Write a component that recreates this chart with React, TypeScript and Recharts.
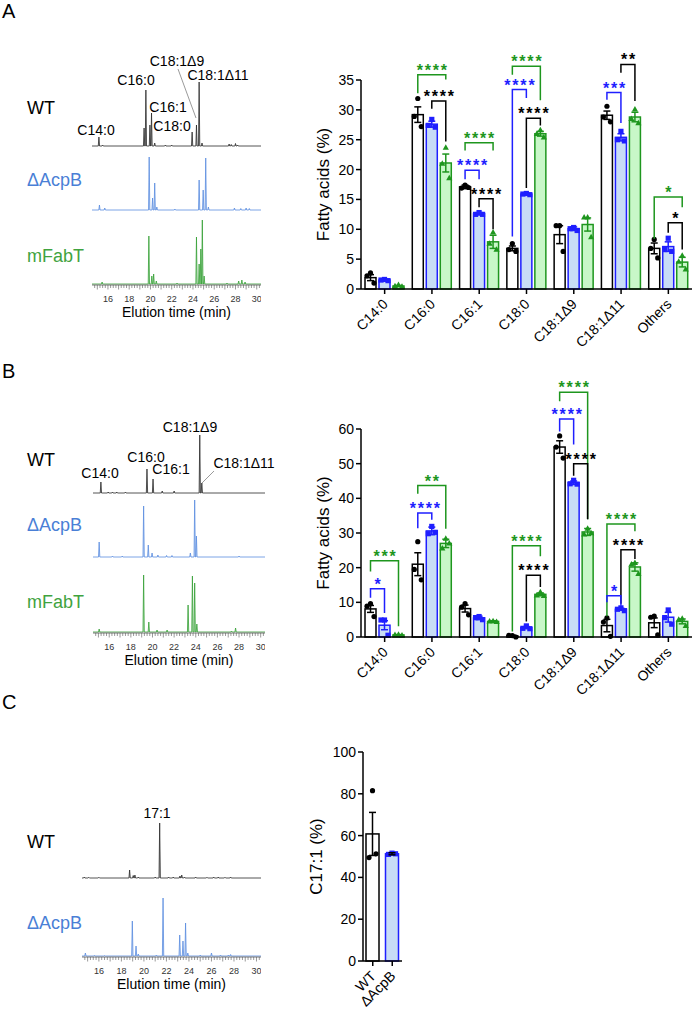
import React from 'react'
import { BarChart, Bar, XAxis, YAxis, ErrorBar, AreaChart, Area, Label } from 'recharts'

const FONT = '"Liberation Sans", Arial, Helvetica, sans-serif'

// ---------- bar chart data ----------
const categories = ['C14:0', 'C16:0', 'C16:1', 'C18:0', 'C18:1Δ9', 'C18:1Δ11', 'Others']

// panel A (%), mean / SEM / replicates
const aWT = [1.9, 29.2, 17.1, 6.8, 9.1, 29.1, 6.8]
const aAcpB = [1.5, 27.6, 12.6, 15.9, 10.1, 25.4, 7.1]
const aFabT = [0.5, 21.1, 7.9, 26.0, 10.8, 28.8, 4.5]
const aWTsem = [0.5, 1.3, 0.3, 0.4, 1.5, 0.7, 0.9]
const aAcpBsem = [0.1, 0.5, 0.2, 0.1, 0.3, 0.6, 0.8]
const aFabTsem = [0.1, 1.5, 1.1, 0.4, 1.1, 0.8, 0.8]
const aWTreps = [[2.7, 2.2, 1.0], [31.9, 28.9, 27.2], [17.4, 16.9, 17.0], [7.6, 6.6, 6.3], [10.6, 10.6, 6.3], [30.6, 28.8, 28.0], [8.3, 6.8, 5.2]]
const aAcpBreps = [[1.6, 1.5, 1.4], [28.4, 27.4, 27.1], [12.8, 12.5, 12.5], [16.0, 15.9, 15.8], [10.3, 10.1, 9.8], [26.4, 25.0, 24.8], [8.5, 6.6, 6.3]]
const aFabTreps = [[0.7, 0.5, 0.4], [23.7, 21.0, 18.6], [9.5, 7.6, 6.6], [26.6, 26.0, 25.4], [12.0, 12.0, 8.7], [30.1, 28.5, 27.8], [5.6, 4.6, 3.3]]

// panel B (%)
const bWT = [8.1, 21.0, 8.2, 0.3, 54.8, 3.3, 4.1]
const bAcpB = [3.4, 30.6, 5.5, 2.7, 44.5, 8.0, 5.7]
const bFabT = [0.6, 27.0, 4.5, 12.3, 30.3, 20.2, 4.5]
const bWTsem = [1.0, 3.3, 1.0, 0.2, 1.8, 1.8, 1.4]
const bAcpBsem = [1.3, 1.1, 0.5, 0.3, 0.5, 0.3, 1.4]
const bFabTsem = [0.1, 1.2, 0.2, 0.4, 1.0, 1.2, 0.7]
const bWTreps = [[9.6, 8.9, 5.9], [27.5, 19.5, 16.5], [9.6, 8.6, 6.4], [0.4, 0.5, 0.0], [58.0, 54.8, 51.6], [5.5, 4.3, 0.2], [6.0, 5.7, 0.6]]
const bAcpBreps = [[4.9, 4.9, 0.5], [31.9, 29.8, 30.2], [5.9, 5.6, 5.0], [3.2, 2.5, 2.4], [45.2, 44.2, 44.1], [8.4, 8.0, 7.6], [7.8, 5.6, 3.7]]
const bFabTreps = [[0.7, 0.6, 0.5], [28.4, 25.6, 27.0], [4.6, 4.5, 4.4], [13.0, 12.0, 11.9], [31.3, 29.6, 30.0], [21.4, 21.0, 18.2], [5.3, 5.0, 3.2]]

// panel C (%)
const cNames = ['WT', 'ΔAcpB']
const cMean = [60.8, 51.3]
const cSem = [10.3, 0.5]
const cReps = [[81.5, 49.5, 51.3], [51.6, 51.0, 51.3]]

const aTicks = [0, 5, 10, 15, 20, 25, 30, 35]
const bTicks = [0, 10, 20, 30, 40, 50, 60]
const cTicks = [0, 20, 40, 60, 80, 100]

// significance brackets: a/b = series index (0 WT, 1 ΔAcpB, 2 mFabT), heights in %
type Bracket = { cat: string; a: number; b: number; top: number; la: number; lb: number; stars: string }
const bracketsA: Bracket[] = [
  { cat: 'C16:0', a: 0, b: 2, top: 35.9, la: 32.8, lb: 35.1, stars: '****' },
  { cat: 'C16:0', a: 1, b: 2, top: 31.5, la: 30.2, lb: 24.7, stars: '****' },
  { cat: 'C16:1', a: 0, b: 2, top: 24.5, la: 23.2, lb: 23.2, stars: '****' },
  { cat: 'C16:1', a: 0, b: 1, top: 19.9, la: 18.4, lb: 18.4, stars: '****' },
  { cat: 'C16:1', a: 1, b: 2, top: 15.1, la: 13.7, lb: 10.0, stars: '****' },
  { cat: 'C18:0', a: 0, b: 2, top: 37.3, la: 35.9, lb: 31.6, stars: '****' },
  { cat: 'C18:0', a: 0, b: 1, top: 33.4, la: 8.8, lb: 32.0, stars: '****' },
  { cat: 'C18:0', a: 1, b: 2, top: 28.6, la: 16.9, lb: 27.4, stars: '****' },
  { cat: 'C18:1Δ11', a: 0, b: 1, top: 32.9, la: 31.7, lb: 27.8, stars: '***' },
  { cat: 'C18:1Δ11', a: 1, b: 2, top: 37.6, la: 36.2, lb: 31.5, stars: '**' },
  { cat: 'Others', a: 0, b: 2, top: 15.4, la: 8.4, lb: 13.7, stars: '*' },
  { cat: 'Others', a: 1, b: 2, top: 11.1, la: 9.4, lb: 6.6, stars: '*' },
]
const bracketsB: Bracket[] = [
  { cat: 'C14:0', a: 0, b: 2, top: 22.0, la: 18.9, lb: 3.1, stars: '***' },
  { cat: 'C14:0', a: 0, b: 1, top: 13.9, la: 11.3, lb: 6.9, stars: '*' },
  { cat: 'C16:0', a: 0, b: 2, top: 43.7, la: 41.3, lb: 31.2, stars: '**' },
  { cat: 'C16:0', a: 0, b: 1, top: 35.8, la: 31.4, lb: 33.8, stars: '****' },
  { cat: 'C18:0', a: 0, b: 2, top: 26.3, la: 1.6, lb: 23.3, stars: '****' },
  { cat: 'C18:0', a: 1, b: 2, top: 17.8, la: 4.5, lb: 14.4, stars: '****' },
  { cat: 'C18:1Δ9', a: 0, b: 2, top: 70.6, la: 68.0, lb: 34.0, stars: '****' },
  { cat: 'C18:1Δ9', a: 0, b: 1, top: 62.9, la: 59.3, lb: 55.5, stars: '****' },
  { cat: 'C18:1Δ9', a: 1, b: 2, top: 50.0, la: 46.5, lb: 34.0, stars: '****' },
  { cat: 'C18:1Δ11', a: 0, b: 2, top: 32.6, la: 6.0, lb: 30.5, stars: '****' },
  { cat: 'C18:1Δ11', a: 1, b: 2, top: 25.2, la: 9.6, lb: 22.5, stars: '****' },
  { cat: 'C18:1Δ11', a: 0, b: 1, top: 11.9, la: 10.0, lb: 9.0, stars: '*' },
]

// ---------- chromatogram peaks: [time (min), height] ----------
const peaksA_WT = [[15.15, 9], [15.5, 1], [19.4, 18], [19.57, 56], [19.95, 21], [20.1, 33], [20.4, 3], [21.4, 1], [22.0, 1], [23.92, 14], [24.33, 21], [24.58, 64], [24.85, 3], [27.4, 2], [27.6, 1.5], [28.0, 2.5], [28.2, 1]]
const peaksA_AcpB = [[15.2, 5], [15.7, 2], [19.88, 53], [20.2, 12], [20.4, 27], [20.6, 3], [22.3, 1], [24.58, 30], [24.96, 20], [25.2, 52], [25.45, 3], [27.9, 2], [28.5, 1.5], [29.0, 2], [29.3, 1.5]]
const peaksA_FabT = [[15.45, 2], [19.85, 48], [20.13, 8], [20.3, 10], [20.55, 3], [22.5, 1], [24.33, 47], [24.58, 20], [24.74, 35], [24.88, 64], [25.05, 8], [27.2, 1], [28.3, 3], [28.6, 4], [28.9, 2]]
const peaksB_WT = [[15.23, 11], [15.9, 1], [16.3, 1], [16.7, 1], [17.5, 1], [19.49, 24], [20.05, 14], [20.9, 2], [22.0, 2], [24.37, 58], [24.56, 10]]
const peaksB_AcpB = [[15.07, 15], [16.3, 1], [17.2, 1], [19.18, 51], [19.61, 12], [19.96, 4], [20.5, 2], [21.3, 1.5], [21.8, 1.5], [23.5, 4], [23.9, 57], [24.06, 21], [28.0, 1]]
const peaksB_FabT = [[15.07, 3], [19.18, 57], [19.66, 10], [20.42, 2], [21.35, 2], [23.29, 27], [23.69, 56], [23.9, 49], [24.1, 8], [27.3, 1], [27.68, 4]]
const peaksC_WT = [[14.7, 1], [15.1, 0.7], [16.0, 0.7], [18.73, 8], [19.05, 2.5], [19.2, 3], [19.5, 1], [21.0, 1], [21.4, 55], [22.2, 1], [22.6, 1], [23.2, 2], [23.36, 3], [23.6, 1], [24.6, 1], [25.6, 0.7], [26.2, 1], [26.6, 1], [27.2, 0.7], [27.7, 1]]
const peaksC_AcpB = [[14.8, 3], [15.6, 0.7], [16.5, 0.5], [18.97, 35], [19.3, 10], [19.5, 2], [21.1, 1], [21.7, 58], [23.18, 21], [23.47, 15], [23.7, 33], [23.9, 3], [25.0, 1], [26.0, 3], [26.8, 1], [27.5, 1], [27.7, 1.5]]

const timeLabels = [16, 18, 20, 22, 24, 26, 28, 30]

// ---------- styling ----------
const BAR_W = 11
const BAR_GAP = 3
const GREEN = '#1e961e'
const BLUE = '#1f1fff'
const SERIES = [
  { key: 'wt', fill: '#ffffff', stroke: '#000000', marker: 'circle' },
  { key: 'acpb', fill: '#c8dcf6', stroke: BLUE, marker: 'square' },
  { key: 'fabt', fill: '#c8f7c8', stroke: GREEN, marker: 'triangle' },
]
const pairColor = (a: number, b: number) => (a === 0 && b === 2 ? GREEN : a === 0 && b === 1 ? BLUE : '#000000')
const JITTER = [0, -3.5, 3.5]

function marker(kind: string, cx: number, cy: number, color: string, key: number) {
  if (kind === 'square') return <rect key={key} x={cx - 2.6} y={cy - 2.6} width={5.2} height={5.2} fill={color} />
  if (kind === 'triangle') return <path key={key} d={`M${cx},${cy - 3.3} L${cx + 3.1},${cy + 2.2} L${cx - 3.1},${cy + 2.2} Z`} fill={color} />
  return <circle key={key} cx={cx} cy={cy} r={2.6} fill={color} />
}

function barShape(styleOf: (i: number) => number, reps: number[][][], max: number, brackets: Bracket[], cats: string[]) {
  return (p: any) => {
    const { x, y, width, height, index } = p
    const bg = p.background || { y: 0, height: 1 }
    const toY = (v: number) => bg.y + bg.height * (1 - v / max)
    const si = styleOf(index)
    const s = SERIES[si]
    const cx = x + width / 2
    const pts = reps[si][index] || []
    const step = width + BAR_GAP
    const own = brackets.filter((b) => b.cat === cats[index])
    return (
      <g>
        <rect x={x} y={y} width={width} height={Math.max(height, 0)} fill={s.fill} stroke={s.stroke} strokeWidth={1.5} />
        {pts.map((v, k) => marker(s.marker, cx + JITTER[k], toY(v), s.stroke, k))}
        {si === 2 &&
          own.map((b, k) => {
            const xa = cx - (2 - b.a) * step
            const xb = cx - (2 - b.b) * step
            const yt = toY(b.top)
            const col = pairColor(b.a, b.b)
            return (
              <g key={'b' + k}>
                <path d={`M${xa},${toY(b.la)} L${xa},${yt} L${xb},${yt} L${xb},${toY(b.lb)}`} fill="none" stroke={col} strokeWidth={1.5} />
                <text x={(xa + xb) / 2 + 1} y={yt + 1} textAnchor="middle" fontSize={16} fontWeight="bold" letterSpacing={1.8} fill={col} fontFamily={FONT}>
                  {b.stars}
                </text>
              </g>
            )
          })}
      </g>
    )
  }
}

function CatTick(props: any) {
  const { x, y, payload } = props
  const ax = x + 4
  const ay = y + 9
  return (
    <text x={ax} y={ay} transform={`rotate(-45 ${ax} ${ay})`} textAnchor="end" fontSize={14} fontFamily={FONT} fill="#000">
      {payload.value}
    </text>
  )
}

const yTitle = (text: string, dx: number) => (props: any) => {
  const vb = props.viewBox || { x: 0, y: 0, width: 0, height: 0 }
  const cx = vb.x + dx
  const cy = vb.y + vb.height / 2
  return (
    <text x={cx} y={cy} transform={`rotate(-90 ${cx} ${cy})`} textAnchor="middle" fontSize={17} fontFamily={FONT} fill="#000">
      {text}
    </text>
  )
}

const AXIS = { stroke: '#000', strokeWidth: 1.5 }

function FattyChart(props: {
  wt: number[]; acpb: number[]; fabt: number[]; wtSem: number[]; acpbSem: number[]; fabtSem: number[]
  reps: number[][][]; brackets: Bracket[]; max: number; ticks: number[]; top: number; marginTop: number; marginBottom: number
}) {
  const data = categories.map((name, i) => ({
    name, wt: props.wt[i], acpb: props.acpb[i], fabt: props.fabt[i],
    wtSem: props.wtSem[i], acpbSem: props.acpbSem[i], fabtSem: props.fabtSem[i],
  }))
  return (
    <div style={{ position: 'absolute', left: 300, top: props.top }}>
      <BarChart width={392} height={362} data={data} barGap={BAR_GAP}
        margin={{ top: props.marginTop, right: 0, left: 15, bottom: props.marginBottom }}>
        <XAxis dataKey="name" interval={0} height={67} tick={<CatTick />} tickSize={5} axisLine={AXIS} tickLine={AXIS} />
        <YAxis domain={[0, props.max]} ticks={props.ticks} width={46} tickSize={5} axisLine={AXIS} tickLine={AXIS}
          tick={{ fill: '#000', fontSize: 14, fontFamily: FONT }}>
          <Label content={yTitle('Fatty acids (%)', 14)} />
        </YAxis>
        {SERIES.map((s, si) => (
          <Bar key={s.key} dataKey={s.key} barSize={BAR_W} isAnimationActive={false}
            shape={barShape(() => si, props.reps, props.max, props.brackets, categories)}>
            <ErrorBar dataKey={s.key + 'Sem'} width={3.5} stroke={s.stroke} strokeWidth={1.5} />
          </Bar>
        ))}
      </BarChart>
    </div>
  )
}

function C17Chart() {
  const data = cNames.map((name, i) => ({ name, mean: cMean[i], sem: cSem[i] }))
  return (
    <div style={{ position: 'absolute', left: 290, top: 700 }}>
      <BarChart width={140} height={318} data={data} margin={{ top: 52, right: 28, left: 27, bottom: 7 }}>
        <XAxis dataKey="name" interval={0} height={50} tick={<CatTick />} tickSize={5} axisLine={AXIS} tickLine={AXIS} />
        <YAxis domain={[0, 100]} ticks={cTicks} width={46} tickSize={5} axisLine={AXIS} tickLine={AXIS}
          tick={{ fill: '#000', fontSize: 14, fontFamily: FONT }}>
          <Label content={yTitle('C17:1 (%)', 5)} />
        </YAxis>
        <Bar dataKey="mean" barSize={13} isAnimationActive={false}
          shape={barShape((i) => i, [[cReps[0]], [undefined as any, cReps[1]]], 100, [], cNames)}>
          <ErrorBar dataKey="sem" width={3.5} stroke="#000" strokeWidth={1.5} />
        </Bar>
      </BarChart>
    </div>
  )
}

// ---------- chromatograms ----------
const T0 = 14.5
const T1 = 30.4
const PEAK_W = 0.06
const TRACE_H = 70

function buildTrace(peaks: number[][]) {
  const pts: { t: number; v: number }[] = [{ t: T0, v: 0 }]
  const sorted = [...peaks].sort((a, b) => a[0] - b[0])
  for (const [t, h] of sorted) {
    pts.push({ t: t - PEAK_W, v: 0 }, { t, v: h }, { t: t + PEAK_W, v: 0 })
  }
  pts.push({ t: T1, v: 0 })
  return pts
}

const minorTicks: number[] = []
for (let t = 14.75; t <= 30.3; t += 0.25) minorTicks.push(Math.round(t * 100) / 100)

function TimeTick(props: any) {
  const { x, y, payload } = props
  const v = payload.value
  const major = Math.abs(v - Math.round(v)) < 1e-6
  return (
    <g>
      <line x1={x} x2={x} y1={y} y2={y + (major ? 4.5 : 3)} stroke="#555" strokeWidth={0.6} />
      {timeLabels.includes(v) && (
        <text x={x} y={y + 14} textAnchor="middle" dominantBaseline="central" fontSize={9} fill="#333" fontFamily={FONT}>
          {v}
        </text>
      )}
    </g>
  )
}

const timeTitle = (props: any) => {
  const vb = props.viewBox || { x: 0, y: 0, width: 0, height: 0 }
  return (
    <text x={vb.x + vb.width / 2} y={vb.y + 27} textAnchor="middle" dominantBaseline="central" fontSize={14} fill="#000" fontFamily={FONT}>
      Elution time (min)
    </text>
  )
}

function Trace(props: { peaks: number[][]; stroke: string; fill: string; left: number; baseline: number; width: number; axis?: boolean }) {
  const data = buildTrace(props.peaks)
  const h = TRACE_H + (props.axis ? 36 : 0)
  return (
    <div style={{ position: 'absolute', left: props.left, top: props.baseline - (TRACE_H - 1) }}>
      <AreaChart width={props.width} height={h} data={data} margin={{ top: 0, right: 0, left: 0, bottom: 0 }}>
        <XAxis type="number" dataKey="t" domain={[T0, T1]} hide={!props.axis} ticks={minorTicks} interval={0}
          tickSize={0} tickMargin={0} tick={<TimeTick />} axisLine={{ stroke: '#555', strokeWidth: 0.8 }} height={36}>
          <Label content={timeTitle} />
        </XAxis>
        <YAxis hide domain={[-1, TRACE_H - 1]} />
        <Area type="linear" dataKey="v" stroke={props.stroke} fill={props.fill} fillOpacity={0.55} strokeWidth={0.8}
          isAnimationActive={false} dot={false} activeDot={false} />
      </AreaChart>
    </div>
  )
}

const WT_LINE = '#2a2a2a'
const WT_FILL = '#888888'
const ACP_LINE = '#5a8de0'
const ACP_FILL = '#a8c3ef'
const FAB_LINE = '#35a035'
const FAB_FILL = '#9ad69a'
const ACP_TEXT = '#4a7fd6'
const FAB_TEXT = '#3fa33f'

// annotation layout (page px)
const peakLabels = [
  { t: 'C14:0', x: 96, y: 135 }, { t: 'C16:0', x: 136, y: 85 }, { t: 'C16:1', x: 168, y: 112 },
  { t: 'C18:0', x: 172, y: 131 }, { t: 'C18:1Δ9', x: 177, y: 66 }, { t: 'C18:1Δ11', x: 218, y: 80 },
  { t: 'C14:0', x: 100, y: 478 }, { t: 'C16:0', x: 146, y: 462 }, { t: 'C16:1', x: 171, y: 474 },
  { t: 'C18:1Δ9', x: 190, y: 432 }, { t: 'C18:1Δ11', x: 244, y: 468 },
  { t: '17:1', x: 157, y: 818 },
]
const names = [
  { t: 'WT', y: 114, c: '#000' }, { t: 'ΔAcpB', y: 186, c: ACP_TEXT }, { t: 'mFabT', y: 262, c: FAB_TEXT },
  { t: 'WT', y: 466, c: '#000' }, { t: 'ΔAcpB', y: 531, c: ACP_TEXT }, { t: 'mFabT', y: 608, c: FAB_TEXT },
  { t: 'WT', y: 848, c: '#000' }, { t: 'ΔAcpB', y: 929, c: ACP_TEXT },
]

export default function App() {
  return (
    <div style={{ position: 'absolute', left: 0, top: 0, width: 692, height: 1018, background: '#fff', fontFamily: FONT, overflow: 'hidden' }}>
      <Trace peaks={peaksA_WT} stroke={WT_LINE} fill={WT_FILL} left={92} baseline={146} width={169} />
      <Trace peaks={peaksA_AcpB} stroke={ACP_LINE} fill={ACP_FILL} left={92} baseline={210} width={169} />
      <Trace peaks={peaksA_FabT} stroke={FAB_LINE} fill={FAB_FILL} left={92} baseline={284} width={169} axis />

      <Trace peaks={peaksB_WT} stroke={WT_LINE} fill={WT_FILL} left={93} baseline={493} width={172} />
      <Trace peaks={peaksB_AcpB} stroke={ACP_LINE} fill={ACP_FILL} left={93} baseline={557} width={172} />
      <Trace peaks={peaksB_FabT} stroke={FAB_LINE} fill={FAB_FILL} left={93} baseline={632} width={172} axis />

      <Trace peaks={peaksC_WT} stroke={WT_LINE} fill={WT_FILL} left={82} baseline={878} width={179} />
      <Trace peaks={peaksC_AcpB} stroke={ACP_LINE} fill={ACP_FILL} left={82} baseline={956} width={179} axis />

      <FattyChart wt={aWT} acpb={aAcpB} fabt={aFabT} wtSem={aWTsem} acpbSem={aAcpBsem} fabtSem={aFabTsem}
        reps={[aWTreps, aAcpBreps, aFabTreps]} brackets={bracketsA} max={35} ticks={aTicks} top={0} marginTop={80} marginBottom={6} />
      <FattyChart wt={bWT} acpb={bAcpB} fabt={bFabT} wtSem={bWTsem} acpbSem={bAcpBsem} fabtSem={bFabTsem}
        reps={[bWTreps, bAcpBreps, bFabTreps]} brackets={bracketsB} max={60} ticks={bTicks} top={350} marginTop={79} marginBottom={8} />
      <C17Chart />

      <svg width={692} height={1018} style={{ position: 'absolute', left: 0, top: 0, pointerEvents: 'none' }}>
        <g fontFamily={FONT}>
          <text x={2} y={18} fontSize={20}>A</text>
          <text x={2} y={378} fontSize={20}>B</text>
          <text x={2} y={709} fontSize={20}>C</text>
          {names.map((n, i) => (
            <text key={'n' + i} x={27} y={n.y} fontSize={18} fill={n.c}>{n.t}</text>
          ))}
          {peakLabels.map((l, i) => (
            <text key={'p' + i} x={l.x} y={l.y} fontSize={14} textAnchor="middle" fill="#000">{l.t}</text>
          ))}
          <line x1={178} y1={69} x2={196} y2={118} stroke="#555" strokeWidth={0.6} />
          <line x1={214} y1={471} x2={202} y2={483} stroke="#555" strokeWidth={0.6} />
        </g>
      </svg>
    </div>
  )
}
